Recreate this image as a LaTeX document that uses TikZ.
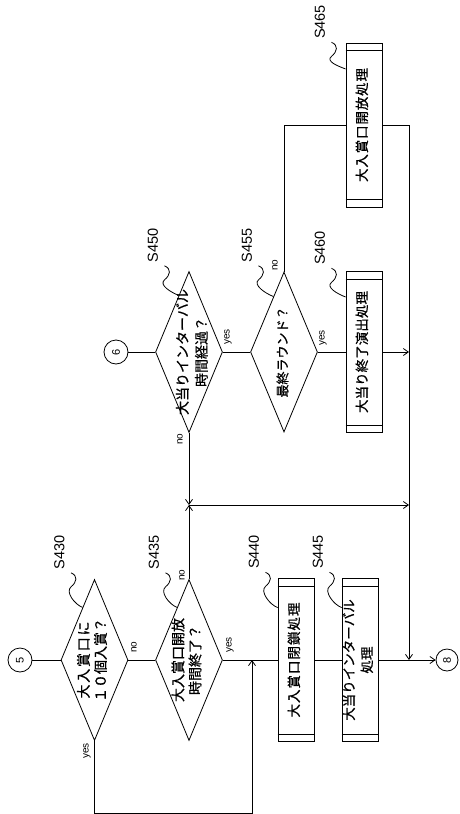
\documentclass[tikz,border=0pt]{standalone}
\usepackage{fontspec}
\setmainfont{Liberation Sans}
\newfontfamily\jp[FakeBold=0.8]{Noto Sans CJK JP}
\usetikzlibrary{shapes.geometric, arrows.meta, calc}
\tikzset{
  decision/.style={diamond, draw, rotate=90, minimum width=161pt, minimum height=67pt, inner sep=0pt, font=\jp\fontsize{14}{17}\selectfont},
  subproc/.style={rectangle, draw, rotate=90, minimum width=163pt, minimum height=36pt, inner sep=0pt, font=\jp\fontsize{13.5}{18}\selectfont},
  connector/.style={circle, draw, rotate=90, minimum size=24pt, inner sep=0pt, font=\fontsize{11}{11}\selectfont},
  steplabel/.style={rotate=90, inner sep=1pt, font=\fontsize{14.5}{14.5}\selectfont},
  yn/.style={rotate=90, inner sep=0pt, font=\fontsize{10}{10}\selectfont},
  arrow/.style={-{Straight Barb[length=5pt,width=7pt]}}
}
% text that does not change the size of its shape
\newcommand{\zb}[2][-3pt]{\makebox[0pt]{\smash{\raisebox{#1}{\begin{tabular}{@{}c@{}}#2\end{tabular}}}}}
% wavy leader from a step label to its box
\newcommand{\squig}[2]{\draw ([shift={(5,2)}]#1.south west) .. controls +(7,3) and +(6,-5) .. ++(0,14) .. controls +(-6,5) and +(-8,-3) .. (#2);}

\begin{document}
\begin{tikzpicture}[x=1pt, y=-1pt, line width=0.8pt]
\useasboundingbox (0,0) rectangle (460,814);

% lower row
\node (c5) [connector] at (20,660) {5};
\node (s430) [decision] at (94.5,660) {\zb{\makebox[77pt]{大\hfill 入\hfill 賞\hfill 口\hfill に}\\１０個入賞？}};
\node (s435) [decision] at (189,660) {\zb{大入賞口開放\\時間終了？}};
\node (s440) [subproc] at (296,660) {\zb{\makebox[115pt]{大\hfill 入\hfill 賞\hfill 口\hfill 閉\hfill 鎖\hfill 処\hfill 理}}};
\node (s445) [subproc] at (360,660) {\zb{\makebox[121pt]{大\hfill 当\hfill り\hfill イ\hfill ン\hfill タ\hfill ー\hfill バ\hfill ル}\\処理}};
\node (c8) [connector, minimum size=22pt] at (447,660) {8};

% upper row
\node (c6) [connector] at (116,352) {6};
\node (s450) [decision, font=\jp\fontsize{14}{19}\selectfont] at (189,352) {\zb[-8pt]{大当りインターバル\\時間経過？}};
\node (s455) [decision, minimum width=160pt, font=\jp\fontsize{13}{17}\selectfont] at (284,352) {\zb{最終ラウンド？}};
\node (s460) [subproc, minimum width=161pt] at (364,352) {\zb{\makebox[122pt]{大\hfill 当\hfill り\hfill 終\hfill 了\hfill 演\hfill 出\hfill 処\hfill 理}}};
\node (s465) [subproc, minimum width=164pt] at (364,125) {\zb{\makebox[114pt]{大\hfill 入\hfill 賞\hfill 口\hfill 開\hfill 放\hfill 処\hfill 理}}};

% step numbers
\node (l430) [steplabel] at (59.5,552.5) {S430};
\node (l435) [steplabel] at (154,552.5) {S435};
\node (l440) [steplabel] at (254,552) {S440};
\node (l445) [steplabel] at (318,552) {S445};
\node (l450) [steplabel] at (153,245.5) {S450};
\node (l455) [steplabel] at (247,245.5) {S455};
\node (l460) [steplabel] at (320,248) {S460};
\node (l465) [steplabel] at (320,22) {S465};

\squig{l430}{$(s430.east)!0.35!(s430.north)$}
\squig{l435}{$(s435.east)!0.35!(s435.north)$}
\squig{l440}{$(s440.north east)!0.18!(s440.north west)$}
\squig{l445}{$(s445.north east)!0.18!(s445.north west)$}
\squig{l450}{$(s450.east)!0.3!(s450.north)$}
\squig{l455}{$(s455.east)!0.31!(s455.north)$}
\squig{l460}{$(s460.north east)!0.16!(s460.north west)$}
\squig{l465}{$(s465.north east)!0.16!(s465.north west)$}

% double ends of the process boxes
\foreach \n in {s440,s445,s460,s465}{
  \draw ($(\n.north west)!8pt!(\n.north east)$) -- ($(\n.south west)!8pt!(\n.south east)$);
  \draw ($(\n.north east)!8pt!(\n.north west)$) -- ($(\n.south east)!8pt!(\n.south west)$);
}

% yes / no
\node (n430) [yn] at (134,647) {no};
\node (y430) [yn] at (87,751) {yes};
\node (n435) [yn] at (182,575) {no};
\node (y435) [yn] at (230,645) {yes};
\node (n450) [yn] at (180,439) {no};
\node (y450) [yn] at (228,337) {yes};
\node (n455) [yn] at (275,265) {no};
\node (y455) [yn] at (323,338) {yes};

\coordinate (m1) at (252,660);
\coordinate (m2) at (189,505);
\coordinate (m3) at (409,660);

\draw (c5) -- (s430);
\draw (s430) -- (s435);
\draw [arrow] (s430.west) -- ++(0,72) -| (m1);
\draw (s435) -- (s440);
\draw (s440) -- (s445);
\draw [arrow] (s445) -- (c8);
\draw [arrow] (s435.east) -- (m2);
\draw (c6) -- (s450);
\draw [arrow] (s450.west) -- (m2);
\draw [arrow] (m2) -- (m2 -| m3);
\draw (s450) -- (s455);
\draw (s455) -- (s460);
\draw [arrow] (s460) -- (s460 -| m3);
\draw (s455.east) |- (s465);
\draw [arrow] (s465) -| (m3);
\end{tikzpicture}
\end{document}
